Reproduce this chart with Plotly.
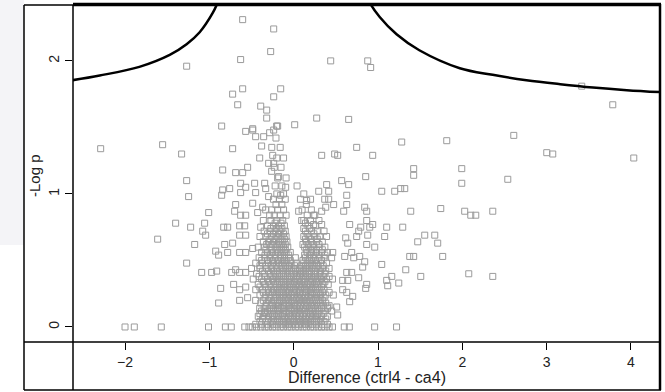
import plotly.graph_objects as go

# ---------------- data ----------------
x_ticks = [-2, -1, 0, 1, 2, 3, 4]
y_ticks = [0, 1, 2]
x_title = "Difference (ctrl4 - ca4)"
y_title = "-Log p"

# threshold curves
curve_left_x = [-2.62, -2.30, -1.83, -1.47, -1.27, -1.115, -0.96, -0.90, -0.86]
curve_left_y = [1.855, 1.89, 1.955, 2.045, 2.125, 2.215, 2.36, 2.44, 2.51]
curve_right_x = [0.86, 0.90, 1.02, 1.22, 1.49, 1.97, 2.36, 2.76, 3.16, 3.55, 3.95, 4.35]
curve_right_y = [2.51, 2.44, 2.33, 2.20, 2.08, 1.945, 1.895, 1.855, 1.825, 1.80, 1.78, 1.765]

# sparse points, upper part
upper_points = [
    (-0.605, 2.31), (-0.237, 2.24), (-0.273, 2.07), (-0.629, 2.01), (-1.269, 1.96),
    (0.439, 2.00), (0.878, 2.00), (0.913, 1.95), (-0.605, 1.79), (-0.724, 1.75),
    (-0.154, 1.79), (-0.237, 1.73), (-0.664, 1.67), (-0.391, 1.66), (-0.320, 1.63),
    (-0.320, 1.57), (0.273, 1.57), (0.652, 1.56), (-0.854, 1.51), (-0.486, 1.49),
    (-0.190, 1.51), (0.012, 1.52), (3.416, 1.81), (3.784, 1.67), (2.610, 1.44),
    (3.001, 1.31), (3.072, 1.30), (4.033, 1.27), (1.993, 1.19), (2.539, 1.11),
    (1.993, 1.08), (2.028, 0.87), (2.100, 0.84), (2.159, 0.84), (2.361, 0.87),
    (2.076, 0.40), (2.361, 0.38), (1.281, 1.39), (1.815, 1.40), (0.747, 1.35),
    (0.332, 1.29), (0.486, 1.30), (0.522, 1.29), (0.937, 1.29), (1.423, 1.19),
    (1.423, 1.14), (0.854, 1.13), (0.569, 1.10), (0.652, 1.07), (1.044, 1.02),
    (1.198, 1.02), (1.269, 1.04), (1.317, 1.04), (0.297, 1.02), (0.391, 1.07),
    (0.415, 1.02), (0.629, 0.99), (-0.095, 1.05), (-0.154, 0.99), (0.154, 0.95),
    (0.368, 0.96), (0.415, 0.96), (0.380, 0.90), (0.474, 0.92), (0.629, 0.92),
    (0.842, 0.90), (0.593, 0.87), (0.866, 0.87), (0.059, 0.87), (0.332, 0.87),
    (1.388, 0.87), (1.744, 0.89), (0.237, 0.84), (0.095, 0.80), (0.866, 0.80),
    (0.237, 0.77), (0.332, 0.77), (0.664, 0.77), (0.795, 0.75), (0.902, 0.75),
    (1.103, 0.75), (1.293, 0.75), (-0.249, 1.29), (-0.237, 1.23), (-0.178, 1.13),
    (-0.237, 1.48), (-0.202, 1.51),
]

# sparse points, left side
left_points = [
    (-0.569, 1.47), (-0.486, 1.48), (-0.451, 1.43), (-0.356, 1.43), (-0.285, 1.46),
    (-2.289, 1.34), (-1.554, 1.37), (-1.329, 1.30), (-0.724, 1.34), (-0.380, 1.36),
    (-0.403, 1.27), (-0.297, 1.23), (-0.842, 1.18), (-0.688, 1.16), (-0.605, 1.16),
    (-0.546, 1.20), (-0.261, 1.17), (-1.269, 1.10), (-1.246, 0.98), (-0.842, 1.03),
    (-0.759, 1.04), (-0.854, 0.99), (-0.629, 1.08), (-0.569, 1.05), (-0.463, 1.08),
    (-0.344, 1.08), (-0.629, 1.01), (-0.451, 1.01), (-0.332, 1.04), (-0.297, 0.98),
    (-0.688, 0.92), (-0.486, 0.93), (-0.368, 0.90), (-0.700, 0.87), (-0.629, 0.84),
    (-0.569, 0.84), (-0.427, 0.86), (-0.332, 0.88), (-0.285, 0.84), (-1.008, 0.86),
    (-1.400, 0.78), (-1.222, 0.75), (-1.056, 0.78), (-0.830, 0.75), (-0.783, 0.75),
    (-0.641, 0.76), (-0.581, 0.76), (-0.391, 0.75), (-1.079, 0.72), (-1.044, 0.69),
    (-0.641, 0.69), (-0.569, 0.69), (-1.613, 0.66), (-1.174, 0.62), (-0.818, 0.62),
    (-0.724, 0.63), (-0.925, 0.57), (-0.890, 0.54), (-0.783, 0.56), (-0.641, 0.56),
    (-0.569, 0.56), (-0.486, 0.59), (-1.269, 0.48), (-1.091, 0.41), (-0.973, 0.41),
    (-0.913, 0.42), (-0.735, 0.41), (-0.688, 0.43), (-0.641, 0.41), (-0.569, 0.41),
    (-0.866, 0.29), (-0.712, 0.32), (-0.641, 0.28), (-0.569, 0.30), (-0.890, 0.18),
    (-0.641, 0.20), (-0.546, 0.22), (-0.451, 0.20), (-0.403, 0.14), (-0.344, 0.11),
]

# sparse points, right side
right_points = [
    (0.937, 0.77), (1.079, 0.68), (0.961, 0.60), (0.866, 0.62), (0.641, 0.63),
    (0.617, 0.67), (0.747, 0.68), (0.771, 0.72), (0.878, 0.69), (1.471, 0.64),
    (1.554, 0.69), (1.673, 0.69), (1.708, 0.63), (1.767, 0.53), (1.376, 0.53),
    (1.423, 0.53), (1.044, 0.47), (1.329, 0.43), (1.507, 0.38), (1.246, 0.33),
    (1.163, 0.38), (1.103, 0.35), (1.115, 0.31), (0.866, 0.32), (0.854, 0.29),
    (0.771, 0.37), (0.688, 0.41), (0.629, 0.41), (0.641, 0.35), (0.581, 0.35),
    (0.818, 0.45), (0.842, 0.49), (0.688, 0.56), (0.605, 0.53), (0.712, 0.52),
    (0.783, 0.53), (0.463, 0.56), (0.581, 0.28), (0.629, 0.26), (0.664, 0.19),
    (0.700, 0.23), (0.510, 0.15), (0.522, 0.09), (0.403, 0.15),
]

# points at -log p = 0
zero_row_x = [-2.00, -1.89, -1.57, -1.01, -0.81, -0.74, -0.58, -0.53, -0.49, -0.44,
              -0.39, -0.34, -0.30, -0.25, -0.21, -0.16, -0.12, -0.07, -0.03, 0.02,
              0.06, 0.11, 0.15, 0.20, 0.24, 0.29, 0.33, 0.37, 0.42, 0.46, 0.60,
              0.66, 0.96, 1.22]

# dense core, one list of differences per -log p level
core_levels = [0.04, 0.08, 0.12, 0.16, 0.20, 0.24, 0.28, 0.32, 0.36, 0.40, 0.44,
               0.48, 0.52, 0.56, 0.60, 0.64, 0.68, 0.72, 0.76, 0.80, 0.84, 0.88,
               0.92, 0.96, 1.00, 1.06, 1.12, 1.20, 1.27, 1.35, 1.42]
core_x = [
    [-0.40, -0.33, -0.27, -0.22, -0.17, -0.12, -0.08, -0.04, 0.00, 0.04, 0.08, 0.12, 0.16, 0.20, 0.25, 0.30, 0.36],
    [-0.42, -0.36, -0.30, -0.25, -0.20, -0.15, -0.11, -0.06, -0.02, 0.03, 0.07, 0.11, 0.15, 0.19, 0.23, 0.28, 0.33, 0.40],
    [-0.38, -0.31, -0.26, -0.21, -0.17, -0.12, -0.08, -0.03, 0.01, 0.05, 0.09, 0.13, 0.18, 0.22, 0.26, 0.31, 0.37, 0.45],
    [-0.33, -0.27, -0.22, -0.18, -0.13, -0.09, -0.05, 0.00, 0.04, 0.08, 0.12, 0.16, 0.21, 0.25, 0.30, 0.35, 0.42],
    [-0.36, -0.30, -0.24, -0.19, -0.15, -0.10, -0.06, -0.01, 0.03, 0.07, 0.11, 0.15, 0.19, 0.24, 0.29, 0.34],
    [-0.40, -0.33, -0.27, -0.22, -0.17, -0.12, -0.08, -0.03, 0.01, 0.05, 0.10, 0.14, 0.18, 0.22, 0.27, 0.32, 0.38, 0.47],
    [-0.45, -0.37, -0.30, -0.24, -0.19, -0.14, -0.09, -0.05, 0.00, 0.04, 0.08, 0.13, 0.17, 0.21, 0.26, 0.31, 0.36],
    [-0.42, -0.34, -0.28, -0.22, -0.17, -0.12, -0.07, -0.02, 0.03, 0.07, 0.11, 0.16, 0.20, 0.25, 0.29, 0.35, 0.41],
    [-0.48, -0.38, -0.31, -0.25, -0.20, -0.15, -0.10, -0.05, 0.00, 0.05, 0.10, 0.14, 0.19, 0.23, 0.28, 0.33, 0.39, 0.46],
    [-0.44, -0.35, -0.28, -0.22, -0.17, -0.12, -0.07, -0.02, 0.03, 0.08, 0.12, 0.17, 0.21, 0.26, 0.31, 0.37],
    [-0.50, -0.40, -0.32, -0.26, -0.20, -0.15, -0.10, -0.05, 0.00, 0.05, 0.10, 0.15, 0.19, 0.24, 0.29, 0.34, 0.42],
    [-0.45, -0.37, -0.30, -0.24, -0.18, -0.13, -0.08, -0.03, 0.03, 0.12, 0.17, 0.22, 0.27, 0.32, 0.39],
    [-0.41, -0.34, -0.28, -0.22, -0.16, -0.11, -0.06, 0.02, 0.14, 0.19, 0.24, 0.30, 0.36, 0.45],
    [-0.38, -0.31, -0.25, -0.19, -0.14, -0.09, -0.04, 0.16, 0.21, 0.27, 0.33, 0.40],
    [-0.42, -0.35, -0.28, -0.22, -0.17, -0.12, -0.07, 0.13, 0.18, 0.24, 0.30, 0.37],
    [-0.36, -0.30, -0.24, -0.18, -0.13, -0.08, 0.15, 0.21, 0.27, 0.34],
    [-0.40, -0.33, -0.26, -0.20, -0.14, -0.09, 0.12, 0.18, 0.25, 0.31, 0.39],
    [-0.35, -0.28, -0.22, -0.16, -0.10, 0.14, 0.21, 0.28, 0.36],
    [-0.31, -0.24, -0.18, -0.11, 0.17, 0.26],
    [-0.36, -0.27, -0.20, -0.13, 0.12, 0.20, 0.30],
    [-0.23, -0.16, -0.09, 0.16, 0.25],
    [-0.26, -0.19, -0.12, 0.10, 0.21],
    [-0.21, -0.14, 0.15],
    [-0.24, -0.17, -0.10, 0.08, 0.20],
    [-0.20, -0.12, 0.12],
    [-0.22, -0.14, 0.04],
    [-0.19, -0.09],
    [-0.23, -0.15],
    [-0.20, -0.12],
    [-0.26, -0.16],
    [-0.21],
]

# dense core, in-between levels
core_levels_b = [0.02, 0.06, 0.10, 0.14, 0.18, 0.22, 0.26, 0.30, 0.34, 0.38, 0.42,
                 0.46, 0.50, 0.54, 0.58, 0.62, 0.66, 0.70, 0.74, 0.78]
core_x_b = [
    [-0.45, -0.38, -0.31, -0.25, -0.20, -0.15, -0.10, -0.06, -0.02, 0.02, 0.06, 0.10, 0.14, 0.18, 0.22, 0.27, 0.33, 0.40],
    [-0.37, -0.30, -0.24, -0.19, -0.14, -0.10, -0.06, -0.01, 0.03, 0.06, 0.10, 0.14, 0.18, 0.22, 0.27, 0.32, 0.38],
    [-0.40, -0.33, -0.28, -0.23, -0.18, -0.13, -0.09, -0.05, -0.01, 0.03, 0.07, 0.11, 0.15, 0.20, 0.24, 0.29, 0.35],
    [-0.35, -0.29, -0.24, -0.19, -0.15, -0.11, -0.06, -0.02, 0.03, 0.07, 0.11, 0.14, 0.19, 0.23, 0.28, 0.33, 0.40],
    [-0.39, -0.32, -0.26, -0.21, -0.17, -0.12, -0.08, -0.03, 0.01, 0.05, 0.09, 0.13, 0.17, 0.22, 0.27, 0.32, 0.38],
    [-0.34, -0.28, -0.22, -0.17, -0.13, -0.08, -0.04, 0.00, 0.05, 0.09, 0.13, 0.17, 0.21, 0.26, 0.31, 0.36],
    [-0.36, -0.30, -0.25, -0.20, -0.15, -0.10, -0.06, -0.01, 0.03, 0.07, 0.11, 0.15, 0.20, 0.24, 0.29, 0.34, 0.42],
    [-0.40, -0.33, -0.27, -0.21, -0.16, -0.11, -0.07, -0.03, 0.02, 0.06, 0.10, 0.15, 0.19, 0.23, 0.28, 0.33],
    [-0.36, -0.30, -0.24, -0.19, -0.14, -0.09, -0.04, 0.01, 0.05, 0.09, 0.13, 0.18, 0.22, 0.27, 0.31, 0.37],
    [-0.41, -0.34, -0.27, -0.22, -0.17, -0.12, -0.07, -0.03, 0.03, 0.07, 0.12, 0.16, 0.21, 0.25, 0.30, 0.35, 0.42],
    [-0.37, -0.30, -0.24, -0.19, -0.13, -0.08, -0.03, 0.02, 0.07, 0.12, 0.17, 0.21, 0.26, 0.32, 0.38],
    [-0.40, -0.33, -0.27, -0.21, -0.15, -0.10, -0.05, 0.01, 0.09, 0.14, 0.19, 0.24, 0.29, 0.35],
    [-0.38, -0.31, -0.25, -0.19, -0.14, -0.09, -0.04, 0.11, 0.16, 0.21, 0.26, 0.33],
    [-0.34, -0.28, -0.22, -0.16, -0.11, -0.06, 0.13, 0.19, 0.24, 0.30, 0.37],
    [-0.33, -0.26, -0.20, -0.15, -0.10, 0.15, 0.21, 0.27, 0.34],
    [-0.32, -0.26, -0.20, -0.15, -0.10, 0.11, 0.17, 0.23, 0.30],
    [-0.28, -0.22, -0.16, -0.11, 0.14, 0.20, 0.28],
    [-0.31, -0.24, -0.18, -0.12, 0.16, 0.24],
    [-0.27, -0.20, -0.14, 0.12, 0.19],
    [-0.22, -0.15, 0.14],
]

# ---------------- assemble ----------------
pts_x, pts_y = [], []
for group in (upper_points, left_points, right_points):
    for px_, py_ in group:
        pts_x.append(px_)
        pts_y.append(py_)
for v in zero_row_x:
    pts_x.append(v)
    pts_y.append(0.0)
for levels, rows in ((core_levels, core_x), (core_levels_b, core_x_b)):
    for lvl, xs in zip(levels, rows):
        for v in xs:
            pts_x.append(v)
            pts_y.append(lvl)

fig = go.Figure()
fig.add_trace(go.Scatter(
    x=pts_x, y=pts_y, mode="markers",
    marker=dict(symbol="square-open", size=6, color="rgb(155,155,155)",
                line=dict(width=1, color="rgb(155,155,155)")),
    showlegend=False, hoverinfo="skip",
))
for cx, cy in ((curve_left_x, curve_left_y), (curve_right_x, curve_right_y)):
    fig.add_trace(go.Scatter(
        x=cx, y=cy, mode="lines",
        line=dict(color="black", width=2.5, shape="spline", smoothing=1.0),
        showlegend=False, hoverinfo="skip",
    ))

font_fam = "Arial, Liberation Sans, sans-serif"
fig.update_layout(
    width=665, height=392,
    margin=dict(l=73, r=5, t=5, b=50, pad=0),
    paper_bgcolor="white", plot_bgcolor="white",
    font=dict(family=font_fam, size=14, color="#222"),
    xaxis=dict(range=[-2.617, 4.344], tickvals=x_ticks, ticks="outside", ticklen=7,
               tickcolor="black", tickwidth=1, showgrid=False, zeroline=False,
               showline=False, tickfont=dict(size=14)),
    yaxis=dict(range=[-0.113, 2.42], tickvals=y_ticks, ticks="outside", ticklen=7,
               tickcolor="black", tickwidth=1, showgrid=False, zeroline=False,
               showline=False, tickangle=-90, tickfont=dict(size=14)),
)

# frame lines (paper coords: x 0->73px, 1->660px; y 0->342px, 1->5px)
def px2x(p):
    return (p - 73) / 587.0

def py2y(p):
    return (342 - p) / 337.0

shapes = [
    dict(type="rect", xref="paper", yref="paper", x0=px2x(0), x1=px2x(24), y0=py2y(245), y1=py2y(0),
         fillcolor="#f4f4f7", line=dict(width=0), layer="below"),
    dict(type="line", xref="paper", yref="paper", x0=px2x(24), x1=px2x(24), y0=py2y(390), y1=py2y(5),
         line=dict(color="black", width=1.5)),
    dict(type="line", xref="paper", yref="paper", x0=px2x(73), x1=px2x(73), y0=py2y(390), y1=py2y(5),
         line=dict(color="black", width=1.5)),
    dict(type="line", xref="paper", yref="paper", x0=px2x(660), x1=px2x(660), y0=py2y(390), y1=py2y(4),
         line=dict(color="black", width=2.5)),
    dict(type="line", xref="paper", yref="paper", x0=px2x(24), x1=px2x(661), y0=py2y(342), y1=py2y(342),
         line=dict(color="black", width=1.5)),
    dict(type="line", xref="paper", yref="paper", x0=px2x(24), x1=px2x(661), y0=py2y(390), y1=py2y(390),
         line=dict(color="black", width=1.5)),
    dict(type="line", xref="paper", yref="paper", x0=px2x(24), x1=px2x(73), y0=py2y(5), y1=py2y(5),
         line=dict(color="black", width=1.5)),
    dict(type="line", xref="paper", yref="paper", x0=px2x(73), x1=px2x(661), y0=py2y(4.5), y1=py2y(4.5),
         line=dict(color="black", width=3.5)),
]
fig.update_layout(shapes=shapes)

fig.add_annotation(text=x_title, xref="paper", yref="paper", x=0.5, y=py2y(378),
                   xanchor="center", yanchor="middle", showarrow=False,
                   font=dict(size=16, color="#222", family=font_fam))
fig.add_annotation(text=y_title, xref="paper", yref="paper", x=px2x(34), y=py2y(176),
                   xanchor="center", yanchor="middle", showarrow=False, textangle=-90,
                   font=dict(size=15, color="#222", family=font_fam))

fig.write_html("out.html")
